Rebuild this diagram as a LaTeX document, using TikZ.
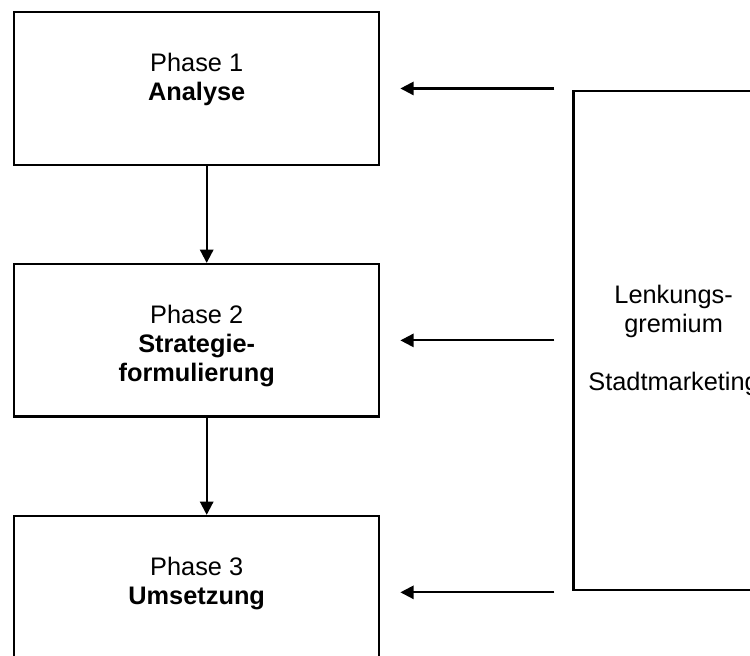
\documentclass[tikz,border=0pt]{standalone}
\usepackage{fontspec}
\setmainfont{Liberation Sans}
\usetikzlibrary{positioning,arrows.meta}
\def\bw{273.75pt}
\def\bh{114.4pt}
\def\dx{144pt}
\def\dy{72.75pt}
\tikzstyle{phase}=[draw,line width=1.8pt,inner sep=0pt]
\tikzstyle{board}=[draw,line width=1.8pt,align=center,minimum width=150pt,minimum height=374.25pt]
\newcommand{\newPhase}[4]{\node[phase,#4](#1){\parbox[c][\bh][t]{\bw}{\centering\vspace*{30.5pt}Phase #2\\\textbf{#3}}};}
\newcommand{\newFeed}[2]{\draw[->,shorten <=13.5pt,shorten >=15pt] (#1.east -| #2.west) -- (#1.east);}

\begin{document}
\begin{tikzpicture}[node distance=\dy and \dx,
      >={Triangle[length=10pt,width=10pt]},
      line width=1.6pt,  %arrows a bit thinner than boxes
      font=\fontsize{19}{21.75}\selectfont
      ]
      \useasboundingbox (-9.75pt,8.25pt) rectangle (552.75pt,-483.75pt);
      \newPhase{p1}{1}{Analyse}{anchor=north west}
      \newPhase{p2}{2}{Strategie-\\formulierung}{below=of p1}
      \newPhase{p3}{3}{Umsetzung}{below=of p2}
      \node[board,right=of p2](lg){Lenkungs-\\gremium\\[21.75pt]Stadtmarketing};
      \draw[->] ([xshift=7.5pt]p1.south) -- ([xshift=7.5pt]p2.north);
      \draw[->] ([xshift=7.5pt]p2.south) -- ([xshift=7.5pt]p3.north);
      \newFeed{p1}{lg}
      \newFeed{p2}{lg}
      \newFeed{p3}{lg}
    \end{tikzpicture}
\end{document}
